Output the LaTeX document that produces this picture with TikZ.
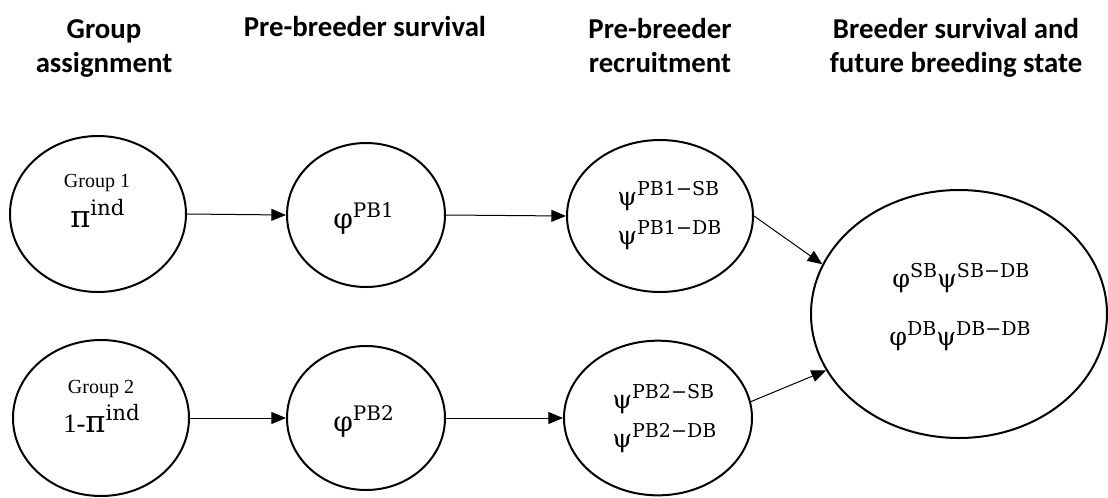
\documentclass[tikz,border=0pt]{standalone}
\usepackage{fontspec}
\setmainfont{Liberation Serif}
\newfontfamily\hdfont{Carlito}
\newfontfamily\mfont{DejaVu Serif}
\usetikzlibrary{shapes.geometric,arrows.meta}
\newcommand\upx[3]{\raisebox{#1}{\fontsize{#2}{#2}\selectfont #3}}
\begin{document}
\begin{tikzpicture}[x=0.75pt,y=-0.75pt,
  ell/.style={draw, ellipse, line width=1.5pt, inner sep=0pt},
  hdr/.style={font=\hdfont\bfseries\fontsize{21.6}{25.5}\selectfont, align=center, anchor=base, inner sep=0pt},
  conn/.style={line width=0.75pt, -{Triangle[length=11pt,width=9pt]}},
  mt/.style={anchor=base west, inner sep=0pt},
  grp/.style={anchor=base, inner sep=0pt, font=\fontsize{15}{18}\selectfont}]
\useasboundingbox (0,0) rectangle (1108,497);

% headers
\node[hdr] (h1) at (104,72) {Group\\assignment};
\node[hdr] (h2) at (365,36) {Pre-breeder survival};
\node[hdr] (h3) at (660,72) {Pre-breeder\\recruitment};
\node[hdr] (h4) at (956,72) {Breeder survival and\\future breeding state};

% ellipses
\node[ell, minimum width=132pt, minimum height=117pt] (g1) at (98,214) {};
\node[ell, minimum width=132pt, minimum height=117pt] (g2) at (101,418) {};
\node[ell, minimum width=118.5pt, minimum height=108pt] (p1) at (366,215) {};
\node[ell, minimum width=118.5pt, minimum height=108pt] (p2) at (366,418) {};
\node[ell, minimum width=139.5pt, minimum height=114pt] (s1) at (660,216) {};
\node[ell, minimum width=141pt, minimum height=116pt] (s2) at (658,418) {};
\node[ell, minimum width=222pt, minimum height=186pt] (b) at (959,314) {};

% texts
\node[grp] (g1a) at (97,187) {Group 1};
\node[mt] (g1b) at (70,227) {\mfont\fontsize{23}{25}\selectfont π\upx{9pt}{16}{ind}};
\node[grp] (g2a) at (101,393) {Group 2};
\node[mt] (g2b) at (63,432) {\fontsize{20}{22}\selectfont 1-{\mfont\fontsize{23}{25}\selectfont π\upx{9pt}{16}{ind}}};

\node[mt] (p1a) at (333,228) {\mfont\fontsize{21}{23}\selectfont φ\upx{8pt}{15}{PB1}};
\node[mt] (p2a) at (333,431) {\mfont\fontsize{21}{23}\selectfont φ\upx{8pt}{15}{PB2}};

\node[mt] (s1a) at (617,205) {\mfont\fontsize{19}{21}\selectfont ψ\upx{7.5pt}{14.3}{PB1−SB}};
\node[mt] (s1b) at (617,244) {\mfont\fontsize{19}{21}\selectfont ψ\upx{7.5pt}{14.3}{PB1−DB}};
\node[mt] (s2a) at (612,408) {\mfont\fontsize{19}{21}\selectfont ψ\upx{7.5pt}{14.3}{PB2−SB}};
\node[mt] (s2b) at (612,447) {\mfont\fontsize{19}{21}\selectfont ψ\upx{7.5pt}{14.3}{PB2−DB}};

\node[mt] (ba) at (892,287) {\mfont\fontsize{19}{21}\selectfont φ\upx{7.5pt}{14.3}{SB}ψ\upx{7.5pt}{14.3}{SB−DB}};
\node[mt] (bb) at (889,345) {\mfont\fontsize{19}{21}\selectfont φ\upx{7.5pt}{14.3}{DB}ψ\upx{7.5pt}{14.3}{DB−DB}};

% connectors
\draw[conn] (g1.east) -- (p1.west);
\draw[conn] (p1.east) -- (s1.west);
\draw[conn] (g2.east) -- (p2.west);
\draw[conn] (p2.east) -- (s2.west);
\draw[conn] (s1.east) -- (b.160);
\draw[conn] (s2.10) -- (b.203);
\end{tikzpicture}
\end{document}
